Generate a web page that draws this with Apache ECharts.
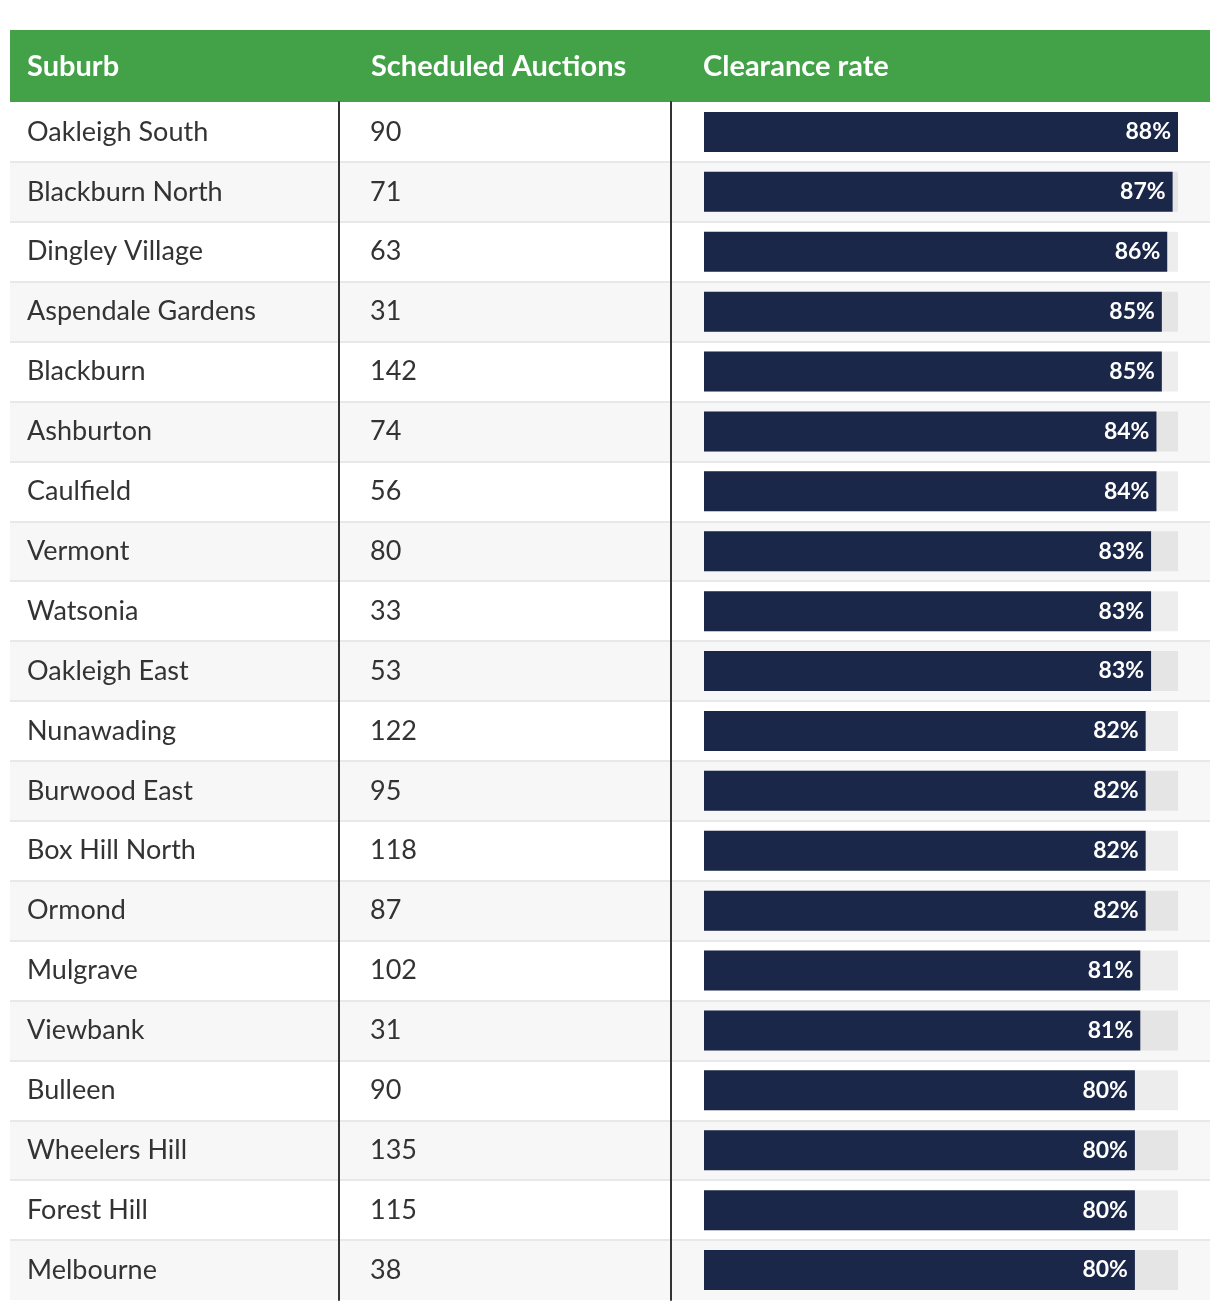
<!DOCTYPE html>
<html>
<head>
<meta charset="utf-8">
<script src="https://cdn.jsdelivr.net/npm/echarts@6/dist/echarts.min.js"></script>
<style>
html,body{margin:0;padding:0;background:#fff;}
#chart{width:1220px;height:1310px;}
</style>
</head>
<body>
<div id="chart"></div>
<script>
const headers = ['Suburb', 'Scheduled Auctions', 'Clearance rate'];
const suburbs = ['Oakleigh South','Blackburn North','Dingley Village','Aspendale Gardens','Blackburn','Ashburton','Caulfield','Vermont','Watsonia','Oakleigh East','Nunawading','Burwood East','Box Hill North','Ormond','Mulgrave','Viewbank','Bulleen','Wheelers Hill','Forest Hill','Melbourne'];
const auctions = [90,71,63,31,142,74,56,80,33,53,122,95,118,87,102,31,90,135,115,38];
const rates = [88,87,86,85,85,84,84,83,83,83,82,82,82,82,81,81,80,80,80,80];

const FONT = 'Lato';
const TOP = 102, H = 1198;
const chart = echarts.init(document.getElementById('chart'));
chart.setOption({
  animation: false,
  graphic: [
    {type:'rect', shape:{x:10,y:30,width:1200,height:72}, style:{fill:'#43a148'}, z:-1},
    {type:'text', x:27, y:67, style:{text:headers[0], fill:'#fff', font:'bold 29px '+FONT, textVerticalAlign:'middle'}},
    {type:'text', x:371, y:67, style:{text:headers[1], fill:'#fff', font:'bold 29px '+FONT, textVerticalAlign:'middle'}},
    {type:'text', x:703, y:67, style:{text:headers[2], fill:'#fff', font:'bold 29px '+FONT, textVerticalAlign:'middle'}}
  ],
  grid: [
    {left:10, top:TOP, width:1200, height:H},
    {left:339, top:TOP, width:332, height:H},
    {left:671, top:TOP, width:539, height:H},
    {left:704, top:TOP, width:474, height:H}
  ],
  xAxis: [
    {gridIndex:0, type:'value', show:false},
    {gridIndex:1, type:'value', show:false},
    {gridIndex:2, type:'value', show:false},
    {gridIndex:3, type:'value', show:false, min:0, max:Math.max(...rates)}
  ],
  yAxis: [
    {gridIndex:0, type:'category', data:suburbs, inverse:true,
     axisLine:{show:false}, axisTick:{show:false},
     axisLabel:{inside:true, margin:17, color:'#333', fontFamily:FONT, fontSize:27},
     splitArea:{show:true, areaStyle:{color:['#ffffff','#f7f7f7']}},
     splitLine:{show:true, showMinLine:false, showMaxLine:false, lineStyle:{color:'#e8e8e8', width:2}}},
    {gridIndex:1, type:'category', data:auctions.map(String), inverse:true,
     axisLine:{show:true, lineStyle:{color:'#333', width:2}}, axisTick:{show:false},
     axisLabel:{inside:true, margin:31, color:'#333', fontFamily:FONT, fontSize:27}},
    {gridIndex:2, type:'category', data:suburbs, inverse:true,
     axisLine:{show:true, lineStyle:{color:'#333', width:2}}, axisTick:{show:false},
     axisLabel:{show:false}},
    {gridIndex:3, type:'category', data:suburbs, inverse:true, show:false}
  ],
  series: [{
    type:'bar', xAxisIndex:3, yAxisIndex:3, data:rates, barWidth:40,
    itemStyle:{color:'#1b2748'},
    showBackground:true, backgroundStyle:{color:'rgba(0,0,0,0.07)'},
    label:{show:true, position:'insideRight', distance:7, formatter:'{c}%', color:'#fff', fontFamily:FONT, fontWeight:'bold', fontSize:23}
  }]
});
</script>
</body>
</html>
